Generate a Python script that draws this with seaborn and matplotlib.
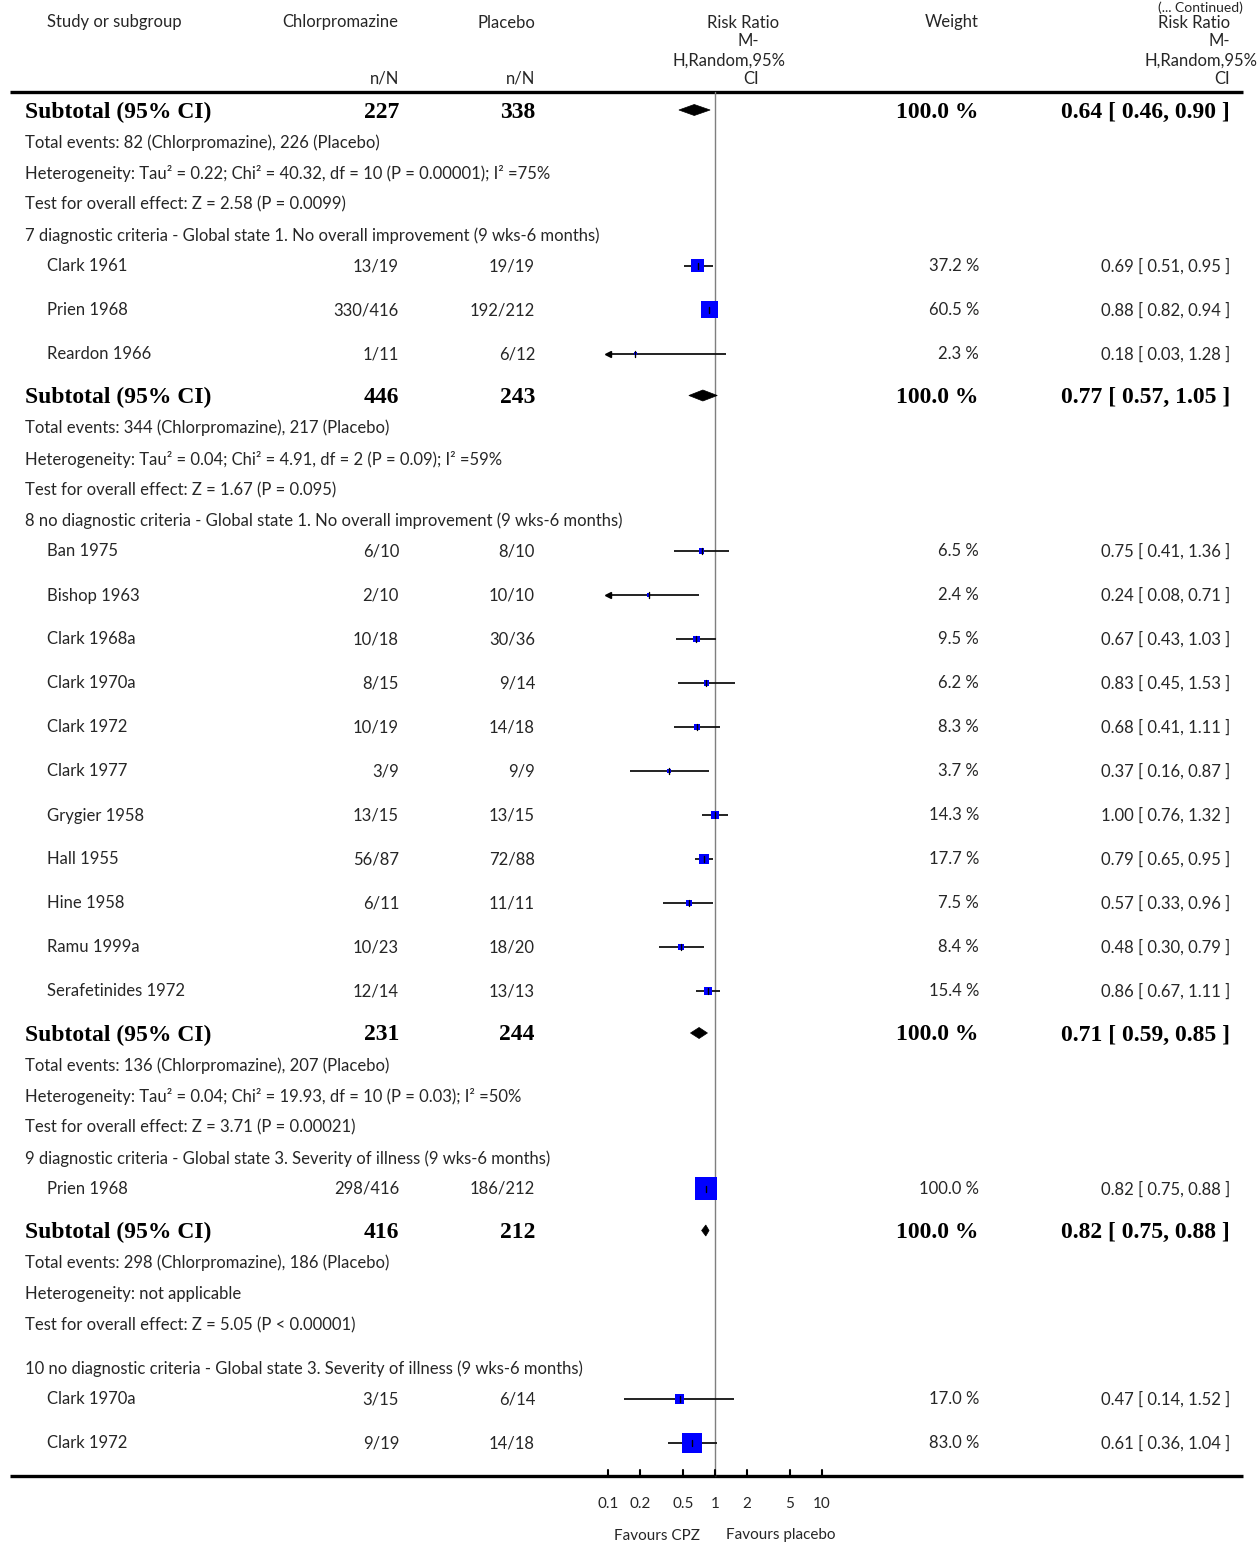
import matplotlib
matplotlib.use("Agg")
import matplotlib.pyplot as plt
import numpy as np
import pandas as pd
import seaborn as sns
from matplotlib.patches import Polygon

# ---------------- data ----------------
study_names = ["Clark 1961", "Prien 1968", "Reardon 1966",
               "Ban 1975", "Bishop 1963", "Clark 1968a", "Clark 1970a", "Clark 1972",
               "Clark 1977", "Grygier 1958", "Hall 1955", "Hine 1958", "Ramu 1999a",
               "Serafetinides 1972",
               "Prien 1968",
               "Clark 1970a", "Clark 1972"]
study_group = [7, 7, 7,
               8, 8, 8, 8, 8, 8, 8, 8, 8, 8, 8,
               9,
               10, 10]
cpz_events = ["13/19", "330/416", "1/11",
              "6/10", "2/10", "10/18", "8/15", "10/19", "3/9", "13/15", "56/87",
              "6/11", "10/23", "12/14",
              "298/416",
              "3/15", "9/19"]
placebo_events = ["19/19", "192/212", "6/12",
                  "8/10", "10/10", "30/36", "9/14", "14/18", "9/9", "13/15", "72/88",
                  "11/11", "18/20", "13/13",
                  "186/212",
                  "6/14", "14/18"]
weight = [37.2, 60.5, 2.3,
          6.5, 2.4, 9.5, 6.2, 8.3, 3.7, 14.3, 17.7, 7.5, 8.4, 15.4,
          100.0,
          17.0, 83.0]
rr = [0.69, 0.88, 0.18,
      0.75, 0.24, 0.67, 0.83, 0.68, 0.37, 1.00, 0.79, 0.57, 0.48, 0.86,
      0.82,
      0.47, 0.61]
rr_low = [0.51, 0.82, 0.03,
          0.41, 0.08, 0.43, 0.45, 0.41, 0.16, 0.76, 0.65, 0.33, 0.30, 0.67,
          0.75,
          0.14, 0.36]
rr_high = [0.95, 0.94, 1.28,
           1.36, 0.71, 1.03, 1.53, 1.11, 0.87, 1.32, 0.95, 0.96, 0.79, 1.11,
           0.88,
           1.52, 1.04]

group_ids = [7, 8, 9, 10]
group_titles = [
    "7 diagnostic criteria - Global state 1. No overall improvement (9 wks-6 months)",
    "8 no diagnostic criteria - Global state 1. No overall improvement (9 wks-6 months)",
    "9 diagnostic criteria - Global state 3. Severity of illness (9 wks-6 months)",
    "10 no diagnostic criteria - Global state 3. Severity of illness (9 wks-6 months)",
]

# subtotals: the first one closes the group continued from the previous page
subtotal_cpz_total = [227, 446, 231, 416]
subtotal_placebo_total = [338, 243, 244, 212]
subtotal_rr = [0.64, 0.77, 0.71, 0.82]
subtotal_low = [0.46, 0.57, 0.59, 0.75]
subtotal_high = [0.90, 1.05, 0.85, 0.88]
subtotal_weight = [100.0, 100.0, 100.0, 100.0]
total_events_cpz = [82, 344, 136, 298]
total_events_placebo = [226, 217, 207, 186]
heterogeneity = [
    "Tau² = 0.22; Chi² = 40.32, df = 10 (P = 0.00001); I² =75%",
    "Tau² = 0.04; Chi² = 4.91, df = 2 (P = 0.09); I² =59%",
    "Tau² = 0.04; Chi² = 19.93, df = 10 (P = 0.03); I² =50%",
    "not applicable",
]
overall_effect = [
    "Z = 2.58 (P = 0.0099)",
    "Z = 1.67 (P = 0.095)",
    "Z = 3.71 (P = 0.00021)",
    "Z = 5.05 (P < 0.00001)",
]

axis_ticks = [0.1, 0.2, 0.5, 1, 2, 5, 10]
axis_tick_labels = ["0.1", "0.2", "0.5", "1", "2", "5", "10"]

# ---------------- style ----------------
sns.set_theme(style="white")
plt.rcParams["font.family"] = ["Lato", "DejaVu Sans"]
TXT = "#262626"
BODY = 12.0
BOLD_FONT = dict(family=["Liberation Serif", "DejaVu Serif"], weight="bold", size=17)

W, H = 1258, 1545
fig = plt.figure(figsize=(W / 100, H / 100), dpi=100)

# text layer in pixel units
tx = fig.add_axes([0, 0, 1, 1])
tx.set_xlim(0, W)
tx.set_ylim(H, 0)
tx.axis("off")

# forest layer: log risk-ratio scale, 1 at x=715 px, one decade = 107 px
ax = fig.add_axes([0, 0, 1, 1], sharey=tx)
ax.patch.set_alpha(0)

# ---------------- row layout ----------------
rows = []  # (kind, index)
for s in range(4):
    rows.append(("subtotal", s))
    rows.append(("events", s))
    rows.append(("het", s))
    rows.append(("test", s))
    rows.append(("header", s))
    for i, g in enumerate(study_group):
        if g == group_ids[s]:
            rows.append(("study", i))

step = {("subtotal", "events"): 32, ("events", "het"): 31, ("het", "test"): 31,
        ("test", "header"): 31, ("header", "study"): 30.5, ("study", "study"): 44,
        ("study", "subtotal"): 42}
row_y = []
y = 110
prev = None
for kind, idx in rows:
    if prev is not None:
        d = step[(prev, kind)]
        if kind == "header" and idx == 3:
            d = 44
        y += d
    row_y.append(y)
    prev = kind

X_NAME, X_SUB = 47, 25
X_CPZ, X_PLA, X_W, X_RR = 399, 535, 979, 1230
DY = 0.5   # optical centring of the sans text
DY_BOLD = 2.0  # optical centring of the bold serif text


def label(x, y, s, ha="left", size=BODY, **kw):
    tx.text(x, y + DY, s, ha=ha, va="center", fontsize=size, color=TXT, **kw)


def bold(x, y, s, ha="left"):
    tx.text(x, y + DY_BOLD, s, ha=ha, va="center", color="black", **BOLD_FONT)


# ---------------- header ----------------
label(X_NAME, 22, "Study or subgroup")
label(340, 22, "Chlorpromazine", ha="center")
label(506, 22, "Placebo", ha="center")
label(X_CPZ, 78, "n/N", ha="right")
label(X_PLA, 78, "n/N", ha="right")
label(743, 22, "Risk Ratio", ha="center")
label(748, 41, "M-", ha="center")
label(729, 60, "H,Random,95%", ha="center")
label(751, 78, "CI", ha="center")
label(952, 22, "Weight", ha="center")
label(X_RR, 22, "Risk Ratio", ha="right")
label(X_RR, 41, "M-", ha="right")
label(1257, 60, "H,Random,95%", ha="right")
label(X_RR, 78, "CI", ha="right")
tx.text(1243, 1, "(... Continued)", ha="right", va="top", fontsize=10, color=TXT)

tx.plot([10, 1243], [92, 92], color="black", lw=2.4, solid_capstyle="butt")
tx.plot([10, 1243], [1476, 1476], color="black", lw=2.4, solid_capstyle="butt")

# reference line at RR = 1
ax.plot([1, 1], [92, 1476], color="#7f7f7f", lw=1.0, zorder=1)

# ---------------- rows ----------------
sq_x, sq_y, sq_w = [], [], []
for (kind, idx), y in zip(rows, row_y):
    if kind == "subtotal":
        bold(X_SUB, y, "Subtotal (95% CI)")
        bold(X_CPZ, y, f"{subtotal_cpz_total[idx]}", ha="right")
        bold(X_PLA, y, f"{subtotal_placebo_total[idx]}", ha="right")
        bold(X_W, y, f"{subtotal_weight[idx]:.1f} %", ha="right")
        bold(X_RR, y, f"{subtotal_rr[idx]:.2f} [ {subtotal_low[idx]:.2f}, {subtotal_high[idx]:.2f} ]",
             ha="right")
        lo, est, hi = subtotal_low[idx], subtotal_rr[idx], subtotal_high[idx]
        # pooled-estimate diamond on the log axis
        dia = Polygon([(lo, y), (est, y - 5.5), (hi, y), (est, y + 5.5)], closed=True,
                      facecolor="black", edgecolor="black", lw=0.5, zorder=4)
        ax.add_patch(dia)
    elif kind == "events":
        label(X_SUB, y, f"Total events: {total_events_cpz[idx]} (Chlorpromazine), "
                        f"{total_events_placebo[idx]} (Placebo)")
    elif kind == "het":
        label(X_SUB, y, f"Heterogeneity: {heterogeneity[idx]}")
    elif kind == "test":
        label(X_SUB, y, f"Test for overall effect: {overall_effect[idx]}")
    elif kind == "header":
        label(X_SUB, y, group_titles[idx])
    elif kind == "study":
        i = idx
        label(X_NAME, y, study_names[i])
        label(X_CPZ, y, cpz_events[i], ha="right")
        label(X_PLA, y, placebo_events[i], ha="right")
        label(X_W, y, f"{weight[i]:.1f} %", ha="right")
        label(X_RR, y, f"{rr[i]:.2f} [ {rr_low[i]:.2f}, {rr_high[i]:.2f} ]", ha="right")
        lo = max(rr_low[i], axis_ticks[0])
        hi = min(rr_high[i], axis_ticks[-1])
        ax.plot([lo, hi], [y, y], color="#111111", lw=1.3, zorder=2, solid_capstyle="butt")
        if rr_low[i] < axis_ticks[0]:
            ax.plot([axis_ticks[0]], [y], marker="<", markersize=4, color="black", zorder=3)
        sq_x.append(rr[i])
        sq_y.append(y)
        sq_w.append(weight[i])
        ax.plot([rr[i], rr[i]], [y - 3, y + 3], color="black", lw=1.0, zorder=5)

# study squares: area proportional to weight
sq = pd.DataFrame({"rr": sq_x, "y": sq_y, "weight": sq_w})
sns.scatterplot(data=sq, x="rr", y="y", size="weight", sizes=(0, 251), size_norm=(0, 100),
                marker="s", color="#0000ff", linewidth=0, legend=False, ax=ax, zorder=3)

# ---------------- bottom axis ticks ----------------
for t, lab in zip(axis_ticks, axis_tick_labels):
    ax.plot([t, t], [1470, 1476], color="black", lw=1.5, zorder=2)
    ax.text(t, 1503.5, lab, ha="center", va="center", fontsize=11, color=TXT)
label(657, 1535, "Favours CPZ", ha="center", size=11)
label(781, 1535, "Favours placebo", ha="center", size=11)

ax.set_xscale("log")
ax.set_xlim(10 ** (-715 / 107), 10 ** ((W - 715) / 107))
ax.set_ylim(H, 0)
ax.axis("off")

fig.savefig("out.png", dpi=100, facecolor="white")
